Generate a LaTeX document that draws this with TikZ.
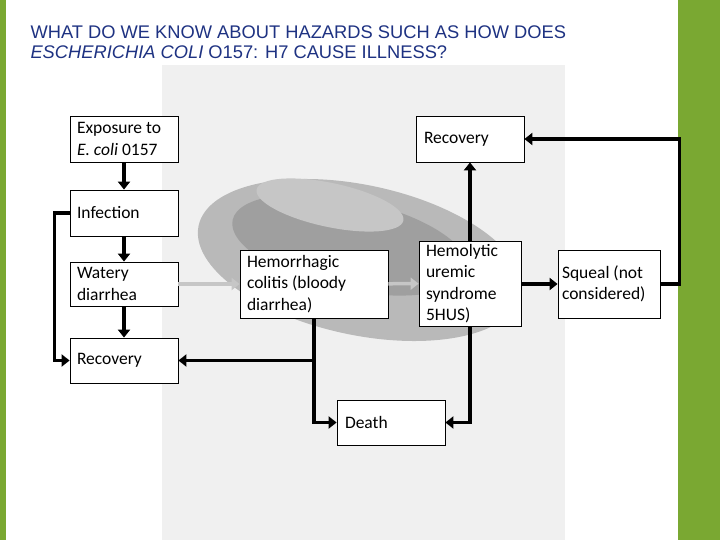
\documentclass[tikz,border=0pt]{standalone}
\usepackage{fontspec}
\setmainfont{Carlito}
\newfontfamily\titlefont{Liberation Sans}
\usetikzlibrary{arrows.meta}
\definecolor{grn}{RGB}{122,168,50}
\definecolor{ttl}{RGB}{30,50,130}
\begin{document}
\begin{tikzpicture}[x=1pt,y=-1pt,
 box/.style={draw=black,fill=white,line width=0.8pt,minimum width=108pt,minimum height=46pt,inner sep=0pt,font=\fontsize{17.5}{21.5}\selectfont},
 con/.style={line width=3.5pt,-{Triangle[length=8pt,width=12pt]}},
 gcon/.style={line width=3.5pt,draw=gray!45,-{Triangle[length=8pt,width=12pt]}}]
\useasboundingbox (0,0) rectangle (720,540);
\fill[white] (0,0) rectangle (720,540);
\fill[grn] (678,0) rectangle (720,540);
\fill[grn] (0,0) rectangle (6,540);
% photo background
\fill[gray!12] (162,65) rectangle (565,540);
\fill[gray!55,rotate around={-12:(360,260)}] (360,260) ellipse (165 and 75);
\fill[gray!75,rotate around={-12:(350,245)}] (350,245) ellipse (120 and 45);
\fill[gray!45,rotate around={-12:(330,205)}] (330,205) ellipse (75 and 22);
% title
\node[anchor=west,text=ttl,font=\titlefont\fontsize{18.3}{21}\selectfont] (t1) at (27,32) {WHAT DO WE KNOW ABOUT HAZARDS SUCH AS HOW DOES};
\node[anchor=west,text=ttl,font=\titlefont\fontsize{18.3}{21}\selectfont] (t2) at (27,52) {\itshape ESCHERICHIA COLI\upshape\ O157: H7 CAUSE ILLNESS?};
% boxes
\node[box] (exp) at (124,139) {\parbox{94pt}{Exposure to\\\emph{E. coli} 0157}};
\node[box] (inf) at (124,213) {\parbox{94pt}{Infection}};
\node[box,minimum height=44pt] (wat) at (124,284) {\parbox{94pt}{Watery\\diarrhea}};
\node[box,minimum height=45pt] (rec1) at (124,360.5) {\parbox{94pt}{Recovery}};
\node[box,minimum width=148pt,minimum height=68pt] (hem) at (314,284) {\parbox{134pt}{Hemorrhagic\\colitis (bloody\\diarrhea)}};
\node[box] (rec2) at (470,139) {\parbox{92pt}{Recovery}};
\node[box,minimum width=102pt,minimum height=85pt] (hus) at (470,283.5) {\parbox{88pt}{Hemolytic\\uremic\\syndrome\\5HUS)}};
\node[box,minimum width=102pt,minimum height=68pt] (sq) at (609,284) {\parbox{94pt}{Squeal (not\\considered)}};
\node[box,minimum height=45pt] (dth) at (391,422.5) {\parbox{92pt}{Death}};
% connectors
\draw[con] (exp) -- (inf);
\draw[con] (inf) -- (wat);
\draw[con] (wat) -- (rec1);
\draw[con] (inf.west) -- ++(-15,0) |- (rec1.west);
\draw[gcon] (wat) -- (hem);
\draw[gcon] (hem) -- (hus);
\draw[con] (hus.east |- sq.west) -- (sq.west);
\draw[con] (hus) -- (rec2);
\draw[con] (hem.south) -- (hem.south |- dth.west) -- (dth.west);
\draw[con] (hem.south |- rec1.east) -- (rec1.east);
\draw[con] (hus.south) |- (dth.east);
\draw[con] (sq.east) -- ++(19,0) |- (rec2.east);
\end{tikzpicture}
\end{document}
